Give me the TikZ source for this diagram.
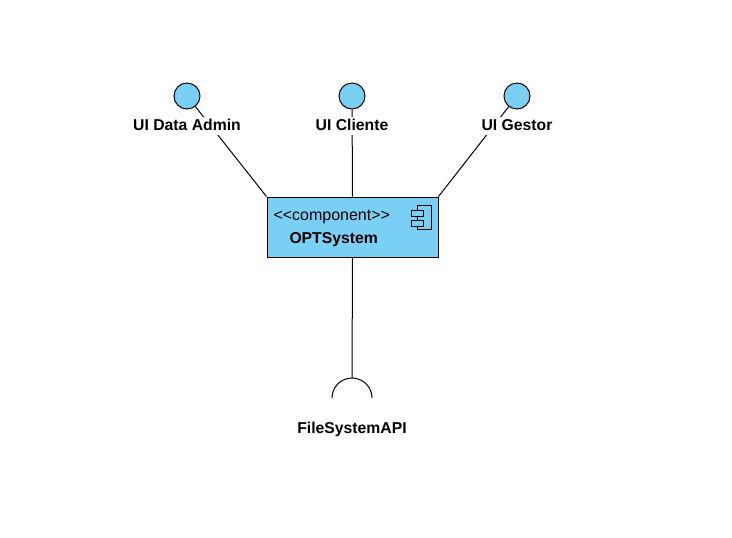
\documentclass[tikz,border=0pt]{standalone}
\usepackage{fontspec}
\setmainfont{Liberation Sans}
\definecolor{umlblue}{HTML}{7ACFF5}
\begin{document}
\begin{tikzpicture}[
        x=0.75pt,y=-0.75pt,
        line width=0.75pt,
        iface/.style={circle,draw,fill=umlblue,minimum size=19.5pt,inner sep=0pt},
        lbl/.style={fill=white,inner sep=1pt,text height=8.6pt,text depth=2.4pt,font=\bfseries\fontsize{11.8}{13}\selectfont},
        comp/.style={draw,fill=umlblue,minimum width=128.25pt,minimum height=45pt,inner sep=0pt}
    ]
        \useasboundingbox (0,0) rectangle (732,537);

        % Provided interfaces
        \node[iface] (admin) at (187,96) {};
        \node[iface] (cliente) at (352,96) {};
        \node[iface] (gestor) at (517,96) {};

        % Component
        \node[comp] (sys) at (352.5,227) {};
        \node[anchor=west,font=\fontsize{12}{13}\selectfont,inner sep=0pt] (stereo) at (273,217) {{<}{<}component{>}{>}};
        \node[anchor=west,font=\bfseries\fontsize{11.8}{13}\selectfont,inner sep=0pt] (name) at (289,240) {OPTSystem};
        \draw[fill=umlblue] (417,205) rectangle (431,229);
        \draw[fill=umlblue] (411,210) rectangle (423,216);
        \draw[fill=umlblue] (411,220) rectangle (423,226);

        % Required interface
        \coordinate (sock) at (352,378);
        \draw (sys.south) -- (sock);
        \draw (sock) ++(-20,20) arc[start angle=180,end angle=0,radius=15pt];

        % Connectors
        \draw (sys.north west) -- (admin);
        \draw (sys.north) -- (cliente);
        \draw (sys.north east) -- (gestor);

        % Labels
        \node[lbl] (ladmin) at (187,126) {UI Data Admin};
        \node[lbl] (lcliente) at (352,126) {UI Cliente};
        \node[lbl] (lgestor) at (517,126) {UI Gestor};
        \node[lbl] (lapi) at (352,429) {FileSystemAPI};
    \end{tikzpicture}
\end{document}
